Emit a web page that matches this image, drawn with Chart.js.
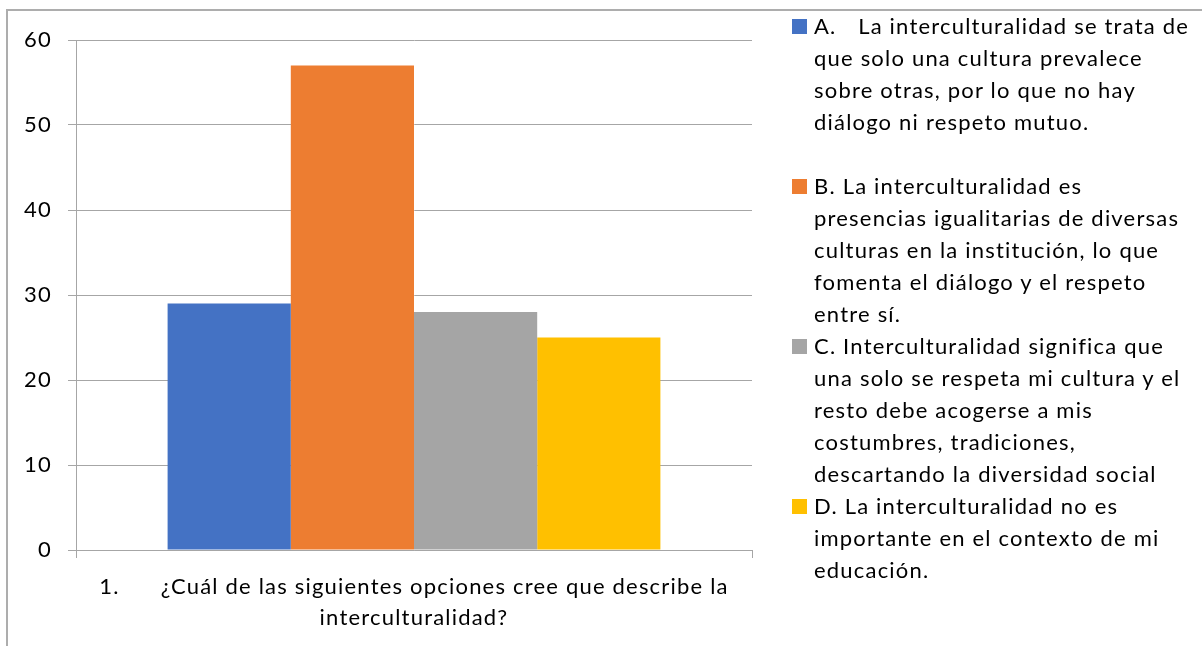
<!DOCTYPE html>
<html>
<head>
<meta charset="utf-8">
<script src="https://cdn.jsdelivr.net/npm/chart.js@4"></script>
<style>
  html, body { margin: 0; padding: 0; background: #fff; }
  #wrap { position: relative; width: 1202px; height: 646px; overflow: hidden; }
  #frame { position: absolute; left: 6px; top: 9px; width: 1300px; height: 800px; border: 2px solid #adadad; box-sizing: border-box; }
  #chart { position: absolute; left: 0; top: 0; }
  #legend { position: absolute; left: 792px; top: 10px; font-family: Lato, sans-serif; font-size: 22px; letter-spacing: 1.2px; line-height: 32px; color: #000; }
  .item { position: relative; padding-left: 22px; white-space: nowrap; }
  .box { position: absolute; left: 0; top: 9px; width: 15px; height: 15px; }
</style>
</head>
<body>
<div id="wrap">
  <div id="frame"></div>
  <canvas id="chart" width="1202" height="646"></canvas>
  <div id="legend"></div>
</div>
<script>
const categories = [['1.      ¿Cuál de las siguientes opciones cree que describe la', 'interculturalidad?']];
const seriesNames = [
    ['A.\u2003\u2009La interculturalidad se trata de', 'que solo una cultura prevalece', 'sobre otras, por lo que no hay', 'diálogo ni respeto mutuo.', ''],
    ['B. La interculturalidad es', 'presencias igualitarias de diversas', 'culturas en la institución, lo que', 'fomenta el diálogo y el respeto', 'entre sí.'],
    ['C. Interculturalidad significa que', 'una solo se respeta mi cultura y el', 'resto debe acogerse a mis', 'costumbres, tradiciones,', 'descartando la diversidad social'],
    ['D. La interculturalidad no es', 'importante en el contexto de mi', 'educación.']
];
const seriesValues = [29, 57, 28, 25];
const seriesColors = ['#4472C4', '#ED7D31', '#A5A5A5', '#FFC000'];
const yMin = 0, yMax = 60, yStep = 10;

const datasets = seriesNames.map((name, i) => ({
    label: name.filter(s => s).join(' '),
    data: [seriesValues[i]],
    backgroundColor: seriesColors[i],
    borderWidth: 0
}));

// legend as html so lines can wrap like the original
const legendEl = document.getElementById('legend');
seriesNames.forEach((lines, i) => {
    const item = document.createElement('div');
    item.className = 'item';
    const box = document.createElement('span');
    box.className = 'box';
    box.style.background = seriesColors[i];
    item.appendChild(box);
    lines.forEach((line, j) => {
        if (j > 0) item.appendChild(document.createElement('br'));
        item.appendChild(document.createTextNode(line || '\u00a0'));
    });
    legendEl.appendChild(item);
});

const gridColor = '#a6a6a6';
const font = {family: 'Lato, sans-serif', size: 22};

// Lato is narrower than the original font, so widen the letters a bit
const spacingPlugin = {
    id: 'spacing',
    beforeDraw: chart => { chart.ctx.letterSpacing = '1.2px'; }
};

new Chart(document.getElementById('chart').getContext('2d'), {
    type: 'bar',
    data: {labels: categories, datasets},
    plugins: [spacingPlugin],
    options: {
        responsive: false,
        animation: false,
        plugins: {legend: {display: false}, tooltip: {enabled: false}},
        layout: {padding: {left: 0, top: 40, right: 450, bottom: 0}},
        categoryPercentage: 0.729,
        barPercentage: 1,
        scales: {
            x: {
                grid: {drawOnChartArea: false, drawTicks: true, tickLength: 8, color: gridColor, offset: true},
                border: {color: gridColor, width: 1},
                ticks: {color: '#000', font: {...font, lineHeight: 1.41}, padding: 13, maxRotation: 0},
                afterFit: axis => { axis.height = 96; }
            },
            y: {
                min: yMin,
                max: yMax,
                grid: {color: gridColor, tickLength: 8, lineWidth: 1},
                border: {color: gridColor, width: 1},
                ticks: {stepSize: yStep, color: '#000', font, padding: 16},
                afterFit: axis => { axis.width = 76; }
            }
        }
    }
});
</script>
</body>
</html>
